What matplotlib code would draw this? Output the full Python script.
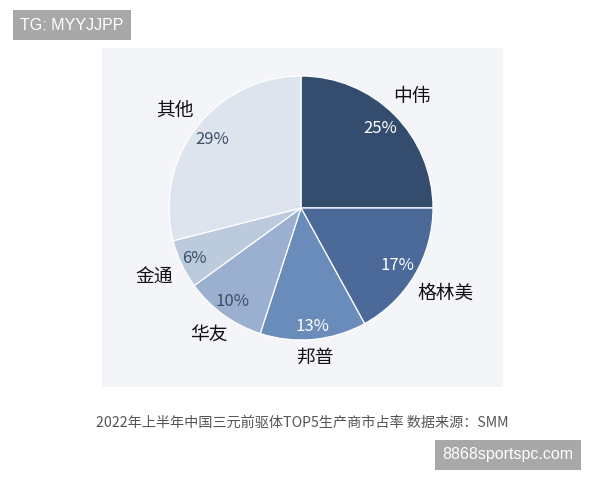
import matplotlib
matplotlib.use("Agg")
import matplotlib.pyplot as plt
from matplotlib.patches import Rectangle
import numpy as np

plt.rcParams['font.family'] = ['Noto Sans CJK SC', 'DejaVu Sans']

names = ['中伟', '格林美', '邦普', '华友', '金通', '其他']
shares = [25, 17, 13, 10, 6, 29]
colors = ['#344d6e', '#4b6a99', '#6a8cbb', '#9bb0d0', '#bccadd', '#dde4ee']
pct_colors = ['#ffffff', '#ffffff', '#ffffff', '#3d4f66', '#3d4f66', '#3d4f66']
caption = '2022年上半年中国三元前驱体TOP5生产商市占率 数据来源：SMM'

# label placement (style)
label_dist = [1.19, 1.27, 1.14, 1.19, 1.23, 1.21]
pct_dist = [0.85, 0.85, 0.90, 0.88, 0.89, 0.85]

W, H = 600, 480
fig = plt.figure(figsize=(6, 4.8), dpi=100)
fig.patch.set_facecolor('white')

# background panel
fig.patches.append(Rectangle((102 / W, 1 - 387 / H), 401 / W, 339 / H,
                             transform=fig.transFigure, facecolor='#f3f5f8',
                             edgecolor='none', zorder=-5))

cx, cy, r = 301, 208, 132
ax = fig.add_axes([(cx - r) / W, 1 - (cy + r) / H, 2 * r / W, 2 * r / H])
ax.set_zorder(2)
ax.set_facecolor('none')
wedges, texts, autotexts = ax.pie(
    shares, labels=names, colors=colors, startangle=90, counterclock=False,
    autopct='%d%%', pctdistance=0.87, labeldistance=1.21,
    wedgeprops=dict(edgecolor='white', linewidth=0.9),
    textprops=dict(fontsize=13.5, color='#111111'))
for w, t, pt, ld, pd, c in zip(wedges, texts, autotexts, label_dist, pct_dist, pct_colors):
    ang = np.deg2rad((w.theta1 + w.theta2) / 2)
    t.set_position((ld * np.cos(ang), ld * np.sin(ang)))
    t.set_ha('center')
    t.set_va('center')
    pt.set_position((pd * np.cos(ang), pd * np.sin(ang)))
    pt.set_color(c)
    pt.set_fontsize(12)
ax.set_xlim(-1, 1)
ax.set_ylim(-1, 1)
ax.set_aspect('equal')
ax.axis('off')

fig.text(302 / W, 1 - 423 / H, caption, ha='center', va='center',
         fontsize=10.2, color='#555555')

# watermark boxes
fig.text(72 / W, 1 - 25 / H, 'TG: MYYJJPP', ha='center', va='center',
         fontsize=11.5, color='white', family=['Liberation Sans'],
         bbox=dict(boxstyle='square,pad=0.45', facecolor='#a8a8a8', edgecolor='none'))
fig.text(508 / W, 1 - 455 / H, '8868sportspc.com', ha='center', va='center',
         fontsize=11.5, color='white', family=['Liberation Sans'],
         bbox=dict(boxstyle='square,pad=0.45', facecolor='#a8a8a8', edgecolor='none'))

fig.savefig('out.png', dpi=100)
